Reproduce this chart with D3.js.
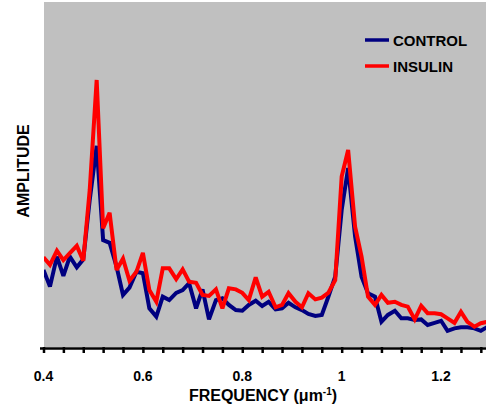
<!DOCTYPE html>
<html>
<head>
<meta charset="utf-8">
<script src="https://cdn.jsdelivr.net/npm/d3@7"></script>
<style>
  html, body { margin: 0; padding: 0; background: #ffffff; }
  svg { display: block; }
  text { font-family: "Liberation Sans", Arial, sans-serif; font-weight: bold; fill: #000; }
</style>
</head>
<body>
<svg id="chart" width="486" height="416"></svg>
<script>
// ---- data ----
const frequency = [
  0.400,0.413,0.427,0.440,0.453,0.467,0.480,0.493,0.507,0.520,
  0.533,0.547,0.560,0.573,0.587,0.600,0.613,0.627,0.640,0.653,
  0.667,0.680,0.693,0.707,0.720,0.733,0.747,0.760,0.773,0.787,
  0.800,0.813,0.827,0.840,0.853,0.867,0.880,0.893,0.907,0.920,
  0.933,0.947,0.960,0.973,0.987,1.000,1.013,1.027,1.040,1.053,
  1.067,1.080,1.093,1.107,1.120,1.133,1.147,1.160,1.173,1.187,
  1.200,1.213,1.227,1.240,1.253,1.267,1.280,1.293
];
const control = [
  22.3,17.5,26.2,20.6,26.2,23.1,25.4,42.6,58.3,31.0,
  30.2,23.3,15.1,17.2,21.8,21.4,11.2,8.8,14.6,13.6,
  15.7,16.5,18.5,11.2,16.7,8.0,13.6,14.1,12.2,10.7,
  10.5,12.2,13.4,11.9,13.1,10.9,11.2,12.8,11.5,10.7,
  9.6,9.0,9.3,14.5,20.4,39.7,51.9,32.0,20.4,15.6,
  14.6,7.3,9.3,10.5,8.3,8.3,7.8,8.0,6.4,7.0,
  7.6,4.7,5.4,5.7,5.7,5.4,4.7,5.8
];
const insulin = [
  26.0,23.8,27.9,25.2,27.2,29.3,25.0,45.5,77.4,34.4,
  38.9,22.3,25.6,19.2,21.8,27.3,16.5,13.1,22.8,22.8,
  19.7,22.5,18.9,18.6,15.1,14.8,16.7,11.2,17.0,16.7,
  15.7,13.6,20.2,14.6,16.0,11.5,12.2,15.6,13.1,11.5,
  15.6,13.8,14.3,15.7,19.4,49.4,57.1,34.9,26.2,14.6,
  12.2,15.1,12.8,13.1,12.2,11.7,8.0,11.9,9.8,9.8,
  9.5,8.3,7.0,10.2,7.3,5.9,6.9,7.3
];
const seriesNames = ["CONTROL", "INSULIN"];
const seriesColors = ["#000080", "#ff0000"];
const majorTicks = [0.4, 0.6, 0.8, 1.0, 1.2];
const majorTickLabels = ["0.4", "0.6", "0.8", "1", "1.2"];
const minorTicks = [0.4,0.44,0.48,0.52,0.56,0.6,0.64,0.68,0.72,0.76,0.8,0.84,0.88,0.92,0.96,1.0,1.04,1.08,1.12,1.16,1.2,1.24,1.28];

// ---- layout ----
const svg = d3.select("#chart");
const plotLeft = 44, plotRight = 486, plotTop = 2, plotBottom = 347;

const x = d3.scaleLinear().domain([0.4, 1.29]).range([43.5, 485.8]);
const y = d3.scaleLinear().domain([0, 100]).range([plotBottom, plotBottom - 345]);

// plot background
svg.append("rect")
  .attr("x", plotLeft).attr("y", plotTop)
  .attr("width", plotRight - plotLeft).attr("height", plotBottom - plotTop)
  .attr("fill", "#c0c0c0");

// clip for lines
svg.append("clipPath").attr("id", "clip")
  .append("rect").attr("x", plotLeft).attr("y", plotTop)
  .attr("width", plotRight - plotLeft).attr("height", plotBottom - plotTop);

const line = d3.line()
  .x((d, i) => x(frequency[i]))
  .y(d => y(d));

const g = svg.append("g").attr("clip-path", "url(#clip)");
[control, insulin].forEach((s, k) => {
  g.append("path")
    .datum(s)
    .attr("d", line)
    .attr("fill", "none")
    .attr("stroke", seriesColors[k])
    .attr("stroke-width", 4)
    .attr("stroke-linejoin", "miter")
    .attr("stroke-miterlimit", 3);
});

// x axis
const axis = d3.axisBottom(x)
  .tickValues(minorTicks)
  .tickSize(6)
  .tickFormat("");
const ax = svg.append("g").attr("transform", `translate(0,${plotBottom})`).call(axis);
ax.select(".domain").remove();
ax.selectAll(".tick line").attr("stroke", "#000").attr("stroke-width", 2.5);
svg.append("line")
  .attr("x1", 40).attr("x2", 486)
  .attr("y1", plotBottom + 1.5).attr("y2", plotBottom + 1.5)
  .attr("stroke", "#000").attr("stroke-width", 2.5);

// tick labels
svg.append("g").selectAll("text")
  .data(majorTicks)
  .join("text")
  .attr("x", d => x(d))
  .attr("y", 381)
  .attr("text-anchor", "middle")
  .style("font-size", "14px")
  .text((d, i) => majorTickLabels[i]);

// axis titles
const xt = svg.append("text")
  .attr("x", 263).attr("y", 401)
  .attr("text-anchor", "middle")
  .style("font-size", "16px");
xt.append("tspan").text("FREQUENCY (\u03bcm");
xt.append("tspan").attr("dy", -6).style("font-size", "10px").text("-1");
xt.append("tspan").attr("dy", 6).text(")");

svg.append("text")
  .attr("transform", "translate(29,171) rotate(-90)")
  .attr("text-anchor", "middle")
  .style("font-size", "16px")
  .text("AMPLITUDE");

// legend
const legendY = [40, 66];
seriesNames.forEach((name, k) => {
  svg.append("line")
    .attr("x1", 365).attr("x2", 389)
    .attr("y1", legendY[k]).attr("y2", legendY[k])
    .attr("stroke", seriesColors[k]).attr("stroke-width", 3.5);
  svg.append("text")
    .attr("x", 393).attr("y", legendY[k] + 6)
    .style("font-size", "15px")
    .text(name);
});
</script>
</body>
</html>
